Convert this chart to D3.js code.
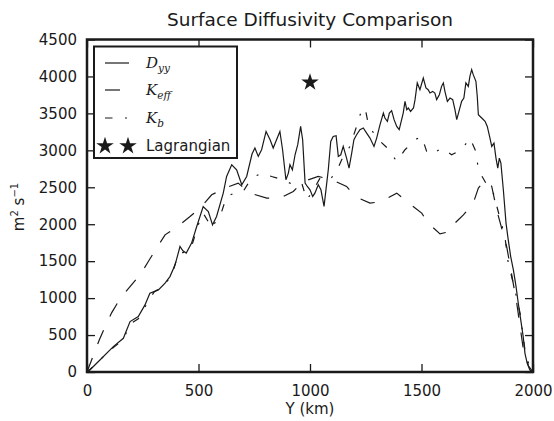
<!DOCTYPE html>
<html><head><meta charset="utf-8">
<script src="https://cdn.jsdelivr.net/npm/d3@7"></script>
<style>body{margin:0;background:#fff}svg{display:block}</style>
</head><body>
<script>
const xTicks = [0, 500, 1000, 1500, 2000];
const yTicks = [0, 500, 1000, 1500, 2000, 2500, 3000, 3500, 4000, 4500];

const dyyY = [0,13,58,118,163,193,230,260,282,320,350,372,395,417,430,445,469,492,521,544,563,581,611,626,649,671,694,716,740,753,768,783,803,821,835,850,865,877,892,903,910,921,933,945,958,967,978,988,1000,1012,1022,1037,1049,1063,1075,1082,1093,1104,1117,1127,1138,1149,1164,1175,1187,1197,1209,1224,1239,1254,1269,1287,1299,1314,1329,1336,1347,1356,1366,1377,1389,1400,1418,1426,1434,1441,1451,1464,1471,1481,1493,1508,1520,1530,1538,1550,1560,1568,1580,1590,1598,1605,1616,1628,1640,1650,1658,1670,1680,1690,1699,1710,1717,1725,1732,1744,1750,1755,1770,1785,1795,1807,1815,1825,1834,1842,1849,1856,1867,1879,1889,1900,1912,1924,1934,1945,1956,1964,1974,1986,2000];
const dyyV = [0,27,163,343,456,682,750,908,1066,1111,1202,1291,1450,1698,1640,1610,1744,1969,2240,2172,1992,2104,2421,2646,2805,2737,2534,2646,2950,3031,2918,3008,3256,3144,3031,3144,3256,3008,2602,2692,2805,2737,2940,3076,3324,3144,2557,2511,2466,2376,2421,2534,2466,2240,2557,2737,3121,3188,3198,2918,2940,3053,2895,2760,2963,3144,3211,3279,3302,3234,3166,3053,3166,3347,3505,3437,3392,3505,3537,3415,3324,3279,3505,3663,3550,3573,3527,3573,3686,3912,3821,3979,3844,3821,3776,3798,3776,3686,3753,3866,3912,3798,3663,3708,3686,3550,3415,3550,3663,3708,3912,3866,4002,4092,4024,3934,3731,3482,3437,3392,3324,3166,3053,3098,2895,2760,2895,2827,2466,2015,1789,1562,1382,1156,931,705,479,253,118,27,0];

const keffY = [0,55,81,111,150,193,238,275,312,350,402,462,507,559,619,678,731,806,865,925,970,1037,1097,1164,1202,1269,1321,1389,1434,1501,1530,1583,1628,1650,1688,1732,1755,1777,1800,1815,1837,1882,1927,1955,1980,2000];
const keffV = [0,434,614,804,1000,1156,1314,1495,1676,1856,1961,2104,2218,2398,2489,2556,2421,2353,2353,2443,2579,2646,2602,2511,2376,2285,2308,2421,2308,2150,2015,1870,1901,2015,2127,2285,2489,2565,2579,2511,2195,1698,935,343,80,0];

const kbY = [0,30,60,118,163,193,230,260,300,350,384,410,440,469,500,521,560,604,626,660,700,738,783,828,880,925,963,985,1007,1045,1090,1122,1142,1179,1209,1232,1247,1262,1299,1347,1389,1426,1471,1501,1523,1545,1590,1635,1680,1717,1744,1755,1790,1822,1844,1874,1889,1919,1942,1964,1985,2000];
const kbV = [0,80,170,330,440,650,720,880,1080,1180,1346,1608,1620,1700,2000,2150,1950,2172,2376,2420,2443,2624,2692,2646,2600,2534,2557,2330,2421,2624,2602,2737,2873,3053,3324,3550,3573,3347,3166,3031,2850,3008,3144,3188,2985,2940,3031,2940,3008,3166,2985,2737,2550,2421,2172,1833,1473,1111,795,298,60,0];

const lagY = [1000];
const lagV = [3920];

const W = 554, H = 421;
const L = 87, R = 533, T = 39.5, B = 372;
const ink = "#1a1a1a";
const sans = "'DejaVu Sans', sans-serif";

const svg = d3.select("body").append("svg").attr("width", W).attr("height", H);
const x = d3.scaleLinear().domain([0, 2000]).range([L, R]);
const y = d3.scaleLinear().domain([0, 4500]).range([B, T]);

svg.append("defs").append("clipPath").attr("id", "clip")
  .append("rect").attr("x", L).attr("y", T).attr("width", R - L).attr("height", B - T);

const line = d3.line().x(d => x(d[0])).y(d => y(d[1]));
const zip = (a, b) => a.map((v, i) => [v, b[i]]);

const g = svg.append("g").attr("clip-path", "url(#clip)");
g.append("path").datum(zip(keffY, keffV)).attr("d", line)
  .attr("fill", "none").attr("stroke", ink).attr("stroke-width", 1.2).attr("stroke-dasharray", "15,15");
g.append("path").datum(zip(kbY, kbV)).attr("d", line)
  .attr("fill", "none").attr("stroke", ink).attr("stroke-width", 1.2).attr("stroke-dasharray", "7.5,12.5,2,12.5");
g.append("path").datum(zip(dyyY, dyyV)).attr("d", line)
  .attr("fill", "none").attr("stroke", ink).attr("stroke-width", 1.2);

const star = d3.symbol().type(d3.symbolStar).size(95);
svg.selectAll(".lag").data(zip(lagY, lagV)).enter().append("path")
  .attr("d", star).attr("transform", d => `translate(${x(d[0])},${y(d[1])})`).attr("fill", ink);

// axes
const tickLen = 8;
const fmt = d3.format("d");
const xb = d3.axisBottom(x).tickValues(xTicks).tickFormat(fmt).tickSizeInner(-tickLen).tickSizeOuter(0).tickPadding(tickLen + 5);
const xt = d3.axisTop(x).tickValues(xTicks).tickSizeInner(-tickLen).tickSizeOuter(0).tickFormat("");
const yl = d3.axisLeft(y).tickValues(yTicks).tickFormat(fmt).tickSizeInner(-tickLen).tickSizeOuter(0).tickPadding(tickLen + 2);
const yr = d3.axisRight(y).tickValues(yTicks).tickSizeInner(-tickLen).tickSizeOuter(0).tickFormat("");
function style(sel) {
  sel.select(".domain").remove();
  sel.selectAll(".tick line").attr("stroke", ink).attr("stroke-width", 1.3);
  sel.selectAll(".tick text").attr("fill", ink).style("font-family", sans).style("font-size", "15px");
}
svg.append("g").attr("transform", `translate(0,${B})`).call(xb).call(style);
svg.append("g").attr("transform", `translate(0,${T})`).call(xt).call(style);
svg.append("g").attr("transform", `translate(${L},0)`).call(yl).call(style);
svg.append("g").attr("transform", `translate(${R},0)`).call(yr).call(style);

svg.append("rect").attr("x", L).attr("y", T).attr("width", R - L).attr("height", B - T)
  .attr("fill", "none").attr("stroke", ink).attr("stroke-width", 2.5);

// labels
svg.append("text").attr("x", (L + R) / 2).attr("y", 26).attr("text-anchor", "middle")
  .style("font-family", sans).style("font-size", "18.5px").attr("fill", ink).text("Surface Diffusivity Comparison");
svg.append("text").attr("x", (L + R) / 2).attr("y", 414).attr("text-anchor", "middle")
  .style("font-family", sans).style("font-size", "15px").attr("fill", ink).text("Y (km)");
const yl2 = svg.append("text").attr("transform", "translate(24,207) rotate(-90)").attr("text-anchor", "middle")
  .style("font-family", sans).style("font-size", "15px").attr("fill", ink);
yl2.append("tspan").text("m");
yl2.append("tspan").attr("dy", -6).style("font-size", "10px").text("2");
yl2.append("tspan").attr("dy", 6).text("  s");
yl2.append("tspan").attr("dy", -6).style("font-size", "10px").text("\u22121");

// legend
const lg = svg.append("g");
lg.append("rect").attr("x", 94).attr("y", 46.5).attr("width", 143).attr("height", 111.5)
  .attr("fill", "#fff").attr("stroke", ink).attr("stroke-width", 2);
const entries = [
  {dash: null, main: "D", sub: "yy", y: 63},
  {dash: "15,15", main: "K", sub: "eff", y: 90},
  {dash: "7.5,12.5,2,12.5", main: "K", sub: "b", y: 118}
];
entries.forEach(e => {
  lg.append("line").attr("x1", 105).attr("x2", 129).attr("y1", e.y).attr("y2", e.y)
    .attr("stroke", ink).attr("stroke-width", 1.2).attr("stroke-dasharray", e.dash);
  const t = lg.append("text").attr("x", 146).attr("y", e.y + 5)
    .style("font-family", "'DejaVu Serif', serif").style("font-style", "italic").style("font-size", "15px").attr("fill", ink);
  t.append("tspan").text(e.main);
  t.append("tspan").attr("dy", 4).style("font-size", "10.5px").text(e.sub);
});
[105, 128].forEach(sx => {
  lg.append("path").attr("d", star).attr("transform", `translate(${sx},146)`).attr("fill", ink);
});
lg.append("text").attr("x", 146).attr("y", 151).style("font-family", sans).style("font-size", "15px")
  .attr("fill", ink).text("Lagrangian");
</script>
</body></html>
